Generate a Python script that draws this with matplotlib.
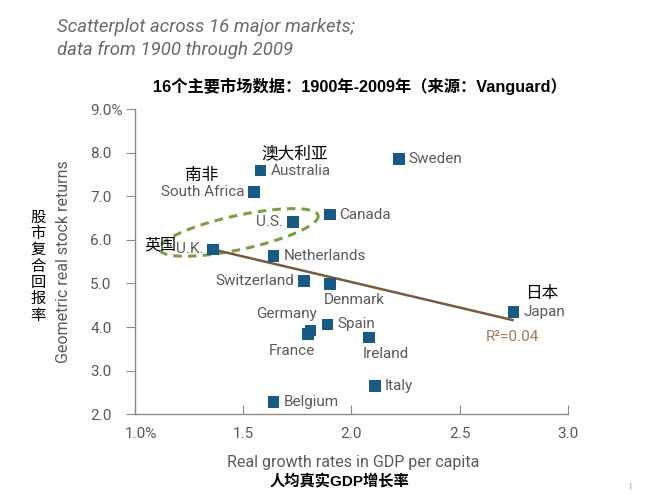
import numpy as np
import matplotlib
matplotlib.use("Agg")
import matplotlib.pyplot as plt
import matplotlib.transforms as mtransforms

plt.rcParams['font.family'] = ['Roboto', 'DejaVu Sans']

countries = ["Australia", "South Africa", "U.S.", "Canada", "U.K.", "Netherlands",
             "Switzerland", "Denmark", "Germany", "France", "Spain", "Ireland",
             "Italy", "Belgium", "Sweden", "Japan"]
gdp_growth = [1.58, 1.55, 1.73, 1.90, 1.36, 1.64, 1.78, 1.90, 1.81, 1.80, 1.89, 2.08,
              2.11, 1.64, 2.22, 2.75]
stock_returns = [7.59, 7.10, 6.41, 6.58, 5.78, 5.63, 5.05, 4.99, 3.92, 3.84, 4.06,
                 3.76, 2.64, 2.28, 7.86, 4.34]
label_pos = ["right", "left", "left", "right", "left", "right", "left", "below",
             "aboveleft", "belowleft", "right", "below", "right", "right", "right", "right"]
cn_names = {"Australia": "澳大利亚", "South Africa": "南非", "U.K.": "英国", "Japan": "日本"}

trend_x = [1.36, 2.745]
trend_y = [5.78, 4.16]
r2_text = "R\u00b2=0.04"

xticks = [1.0, 1.5, 2.0, 2.5, 3.0]
xticklabels = ["1.0%", "1.5", "2.0", "2.5", "3.0"]
yticks = [2, 3, 4, 5, 6, 7, 8, 9]
yticklabels = ["2.0", "3.0", "4.0", "5.0", "6.0", "7.0", "8.0", "9.0%"]

fig = plt.figure(figsize=(6.6, 4.96), dpi=100)
ax = fig.add_axes([0.205, 0.165, 0.655, 0.615])
ax.set_xlim(1.0, 3.0)
ax.set_ylim(2.0, 9.0)

gray_txt = "#5a5a5a"
spine_c = "#8a8a8a"
for s in ["top", "right"]:
    ax.spines[s].set_visible(False)
for s in ["left", "bottom"]:
    ax.spines[s].set_color(spine_c)
    ax.spines[s].set_linewidth(1.0)

ax.set_xticks(xticks)
ax.set_xticklabels(xticklabels)
ax.set_yticks(yticks)
ax.set_yticklabels(yticklabels, ha="left")
ax.tick_params(axis="x", direction="in", length=6.5, color=spine_c, labelcolor=gray_txt,
               labelsize=11, pad=9)
ax.tick_params(axis="y", direction="out", length=6.5, color=spine_c, labelcolor=gray_txt,
               labelsize=11, pad=26)
lbl0 = ax.get_xticklabels()[0]
lbl0.set_transform(lbl0.get_transform() + mtransforms.ScaledTranslation(6/100, 0, fig.dpi_scale_trans))
ax.spines["bottom"].set_bounds(1.0, 3.0)

# trend line
ax.plot(trend_x, trend_y, color="#7b5a3c", lw=1.8, zorder=2)
ax.text(2.745, 3.78, r2_text, color="#a07a52", fontsize=11, ha="center", va="center")

# ellipse (dashed) around U.K. and U.S.
cx, cy = 1.48, 6.17
a = np.array([0.366, 0.391])
b = np.array([0.0166, -0.382])
t = np.linspace(0, 2*np.pi, 200)
ex = cx + np.cos(t)*a[0] + np.sin(t)*b[0]
ey = cy + np.cos(t)*a[1] + np.sin(t)*b[1]
ax.plot(ex, ey, color="#7aa040", lw=2.2, ls=(0, (2.8, 2.0)), zorder=1, clip_on=False)

# points
ax.scatter(gdp_growth, stock_returns, marker="s", s=70, color="#175a86", zorder=3,
           edgecolors="none")

fs = 11
dx = 0.045
for c, x, y, p in zip(countries, gdp_growth, stock_returns, label_pos):
    if p == "right":
        ax.text(x + dx, y, c, ha="left", va="center", color=gray_txt, fontsize=fs)
    elif p == "left":
        ax.text(x - dx, y, c, ha="right", va="center", color=gray_txt, fontsize=fs)
    elif p == "below":
        ax.text(x - 0.03, y - 0.38, c, ha="left", va="center", color=gray_txt, fontsize=fs)
    elif p == "aboveleft":
        ax.text(x + 0.03, y + 0.38, c, ha="right", va="center", color=gray_txt, fontsize=fs)
    elif p == "belowleft":
        ax.text(x + 0.03, y - 0.38, c, ha="right", va="center", color=gray_txt, fontsize=fs)

cnf = ["Noto Sans CJK SC", "DejaVu Sans"]
ax.text(1.735, 7.98, cn_names["Australia"], ha="center", va="center", fontsize=12,
        family=cnf, color="black", fontweight="medium")
ax.text(1.305, 7.47, cn_names["South Africa"], ha="center", va="center", fontsize=12,
        family=cnf, color="black", fontweight="medium")
ax.text(1.188, 5.88, cn_names["U.K."], ha="right", va="center", fontsize=11.5,
        family=cnf, color="black", fontweight="medium")
ax.text(2.88, 4.76, cn_names["Japan"], ha="center", va="center", fontsize=12,
        family=cnf, color="black", fontweight="medium")

# titles
fig.text(57/660, 1 - 27/496, "Scatterplot across 16 major markets;", ha="left", va="center",
         fontsize=13.4, style="italic", color="#6a6a6a")
fig.text(57/660, 1 - 50/496, "data from 1900 through 2009", ha="left", va="center",
         fontsize=13.4, style="italic", color="#6a6a6a")
fig.text(360/660, 1 - 86/496, "16个主要市场数据：1900年-2009年（来源：Vanguard）", ha="center",
         va="center", fontsize=11.7, fontweight="bold", color="black",
         family=["Liberation Sans", "Noto Sans CJK SC"])

# axis labels
fig.text(353/660, 1 - 462/496, "Real growth rates in GDP per capita", ha="center", va="center",
         fontsize=11.5, color=gray_txt)
fig.text(339/660, 1 - 482/496, "人均真实GDP增长率", ha="center", va="center",
         fontsize=11, fontweight="bold", color="black",
         family=["Liberation Sans", "Noto Sans CJK SC"])
fig.text(64/660, 1 - 262/496, "Geometric real stock returns", ha="center", va="center",
         rotation=90, fontsize=11.5, color=gray_txt)
fig.text(38/660, 1 - 266/496, "\n".join("股市复合回报率"), ha="center", va="center",
         fontsize=11, color="black", family=cnf, linespacing=0.95)

fig.text(630/660, 1 - 486/496, "|", ha="center", va="center", fontsize=5, color="#555555")

fig.savefig("out.png", dpi=100, facecolor="white")
